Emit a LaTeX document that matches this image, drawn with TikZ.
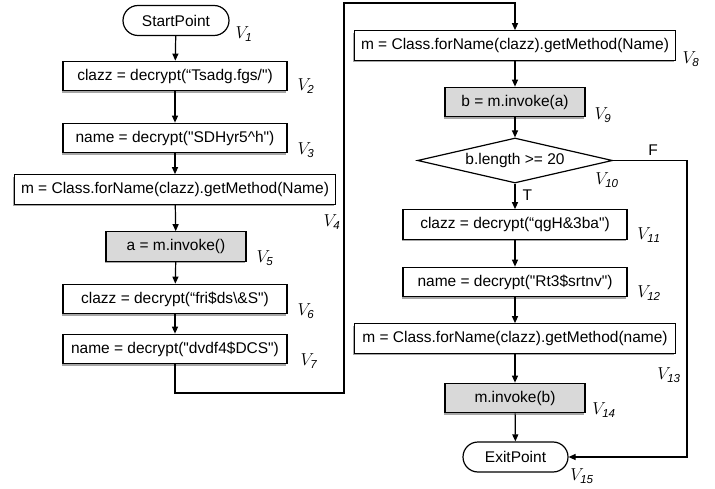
\documentclass[tikz,border=0pt]{standalone}
\usepackage{fontspec}
\setmainfont{Liberation Sans}[Ligatures=TeXOff]
\usetikzlibrary{shapes.misc,shapes.geometric,arrows.meta,shadows}
\newcommand{\dq}{{\char34}}
\begin{document}
\begin{tikzpicture}[x=1pt,y=-1pt,
  font=\fontsize{15.5}{18}\selectfont,
  line width=1.2pt,
  arr/.style={-{Triangle[length=7pt,width=6pt]}},
  proc/.style={draw,rectangle,inner sep=0pt,minimum height=29.5pt,
    drop shadow={shadow xshift=-1.2pt,shadow yshift=-1.8pt,opacity=0.35,fill=black}},
  graybox/.style={proc,fill=black!15},
  term/.style={draw,rounded rectangle,inner sep=0pt,minimum height=30pt},
  cond/.style={draw,diamond,inner sep=0pt,minimum width=195pt,minimum height=45pt,aspect=4.33},
  vlab/.style={inner sep=0pt,font=\fontsize{16.5}{18}\selectfont}
]
\useasboundingbox (0,0) rectangle (715,489);
% left column
\node[term,minimum width=106pt] (s) at (176,20.5) {StartPoint};
\node[proc,fill=white,minimum width=224pt] (v2) at (175,76) {clazz = decrypt(“Tsadg.fgs/\dq)};
\node[proc,fill=white,minimum width=224pt] (v3) at (175,138) {name = decrypt(\dq SDHyr5\^{}h\dq)};
\node[proc,fill=white,minimum width=321pt] (v4) at (175,189.5) {m = Class.forName(clazz).getMethod(Name)};
\node[graybox,minimum width=140pt] (v5) at (176,246.5) {a = m.invoke()};
\node[proc,fill=white,minimum width=224pt] (v6) at (175,299) {clazz = decrypt(“fri\$ds\textbackslash\&S\dq)};
\node[proc,fill=white,minimum width=224pt] (v7) at (175,349) {name = decrypt(\dq dvdf4\$DCS\dq)};
% right column
\node[proc,fill=white,minimum width=321pt] (v8) at (515,45.5) {m = Class.forName(clazz).getMethod(Name)};
\node[graybox,minimum width=140pt] (v9) at (515,102) {b = m.invoke(a)};
\node[cond] (d) at (515,160.5) {b.length >= 20};
\node[proc,fill=white,minimum width=224pt] (v11) at (515,224.5) {clazz = decrypt(“qgH\&3ba\dq)};
\node[proc,fill=white,minimum width=224pt] (v12) at (515,282) {name = decrypt(\dq Rt3\$srtnv\dq)};
\node[proc,fill=white,minimum width=321pt] (v13) at (515,338.5) {m = Class.forName(clazz).getMethod(name)};
\node[graybox,minimum width=140pt] (v14) at (515,398) {m.invoke(b)};
\node[term,minimum width=105pt] (e) at (515.5,457) {ExitPoint};
% V labels
\node[vlab] (l1) at (244,34) {$V_{\mathit{1}}$};
\node[vlab] (l2) at (306,86) {$V_{\mathit{2}}$};
\node[vlab] (l3) at (306,150) {$V_{\mathit{3}}$};
\node[vlab] (l4) at (332,222) {$V_{\mathit{4}}$};
\node[vlab] (l5) at (265,258) {$V_{\mathit{5}}$};
\node[vlab] (l6) at (306,311) {$V_{\mathit{6}}$};
\node[vlab] (l7) at (309,361) {$V_{\mathit{7}}$};
\node[vlab] (l8) at (691,59) {$V_{\mathit{8}}$};
\node[vlab] (l9) at (603,115) {$V_{\mathit{9}}$};
\node[vlab] (l10) at (607,180) {$V_{\mathit{10}}$};
\node[vlab] (l11) at (649,235) {$V_{\mathit{11}}$};
\node[vlab] (l12) at (649,293) {$V_{\mathit{12}}$};
\node[vlab] (l13) at (669,375) {$V_{\mathit{13}}$};
\node[vlab] (l14) at (604,410) {$V_{\mathit{14}}$};
\node[vlab] (l15) at (582,476) {$V_{\mathit{15}}$};
% connectors
\draw[arr] (s) -- (v2);
\draw[arr] (v2) -- (v3);
\draw[arr] (v3) -- (v4);
\draw[arr] (v4) -- (v5);
\draw[arr] (v5) -- (v6);
\draw[arr] (v6) -- (v7);
\coordinate (c1) at (344,393);
\coordinate (c2) at (344,3);
\draw[arr] (v7.south) |- (c1) -- (c2) -| (v8.north);
\draw[arr] (v8) -- (v9);
\draw[arr] (v9) -- (d);
\draw[arr] (d.south) -- node[pos=0.45,right=7pt,inner sep=0pt] (tl) {T} (v11.north);
\draw[arr] (v11) -- (v12);
\draw[arr] (v12) -- (v13);
\draw[arr] (v13) -- (v14);
\draw[arr] (v14) -- (e);
\coordinate (c3) at (687,160.5);
\draw[arr] (d.east) -- (c3) |- (e.east);
\node[inner sep=0pt] (fl) at (653,150) {F};
\end{tikzpicture}
\end{document}
